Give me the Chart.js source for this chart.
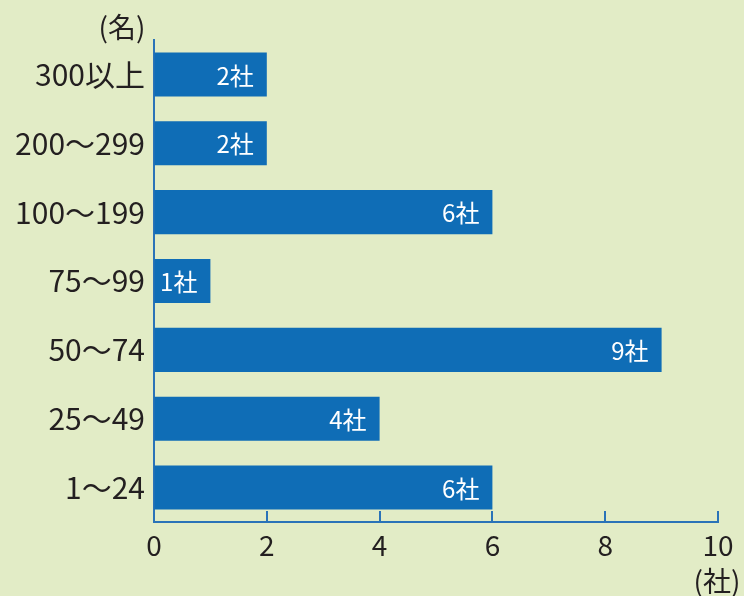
<!DOCTYPE html>
<html>
<head>
<meta charset="utf-8">
<script src="https://cdn.jsdelivr.net/npm/chart.js@4"></script>
<style>
  html, body { margin: 0; padding: 0; background: #e2ecc6; }
  #wrap { width: 744px; height: 596px; position: relative; }
</style>
</head>
<body>
<div id="wrap"><canvas id="chart"></canvas></div>
<script>
const CATEGORIES = ['300以上', '200〜299', '100〜199', '75〜99', '50〜74', '25〜49', '1〜24'];
const COMPANIES = [2, 2, 6, 1, 9, 4, 6];
const X_TICKS = [0, 2, 4, 6, 8, 10];
const UNIT = '社';

const FONT = "'Noto Sans CJK JP', 'Noto Sans', sans-serif";
const BLUE = '#0f6db6';
const AXIS = '#2a73b8';
const TEXT = '#231f20';

// ticks point up into the plot, and the bar values sit inside the bar ends
const extras = {
  id: 'extras',
  afterDatasetsDraw(chart) {
    const { ctx, chartArea, scales } = chart;
    ctx.save();
    ctx.strokeStyle = AXIS;
    ctx.lineWidth = 2;
    X_TICKS.slice(1).forEach((v) => {
      const x = Math.round(scales.x.getPixelForValue(v));
      ctx.beginPath();
      ctx.moveTo(x, chartArea.bottom);
      ctx.lineTo(x, chartArea.bottom - 11);
      ctx.stroke();
    });

    ctx.fillStyle = '#ffffff';
    ctx.font = `24px ${FONT}`;
    ctx.textAlign = 'right';
    ctx.textBaseline = 'middle';
    chart.getDatasetMeta(0).data.forEach((bar, i) => {
      ctx.fillText(`${COMPANIES[i]}${UNIT}`, bar.x - 13, bar.y + 1);
    });

    ctx.fillStyle = TEXT;
    ctx.font = `28px ${FONT}`;
    ctx.textAlign = 'center';
    ctx.fillText('(名)', 122, 27);
    ctx.fillText('(社)', 717, 581);
    ctx.restore();
  },
};

new Chart(document.getElementById('chart'), {
  type: 'bar',
  data: {
    labels: CATEGORIES,
    datasets: [{
      data: COMPANIES,
      backgroundColor: BLUE,
      barPercentage: 0.64,
      categoryPercentage: 1,
    }],
  },
  options: {
    indexAxis: 'y',
    responsive: true,
    maintainAspectRatio: false,
    animation: false,
    layout: { padding: { top: 40, right: 26, left: 0, bottom: 0 } },
    plugins: { legend: { display: false }, tooltip: { enabled: false } },
    scales: {
      x: {
        min: 0,
        max: 10,
        afterBuildTicks: (scale) => { scale.ticks = X_TICKS.map((v) => ({ value: v })); },
        afterFit: (scale) => { scale.height = 74; },
        grid: { display: true, drawOnChartArea: false, drawTicks: false },
        border: { color: AXIS, width: 2 },
        ticks: { color: TEXT, font: { family: FONT, size: 28 }, padding: 7 },
      },
      y: {
        afterFit: (scale) => { scale.width = 154; },
        grid: { display: false, drawTicks: false },
        border: { color: AXIS, width: 2 },
        ticks: { color: TEXT, font: { family: FONT, size: 30 }, padding: 9 },
      },
    },
  },
  plugins: [extras],
});
</script>
</body>
</html>
